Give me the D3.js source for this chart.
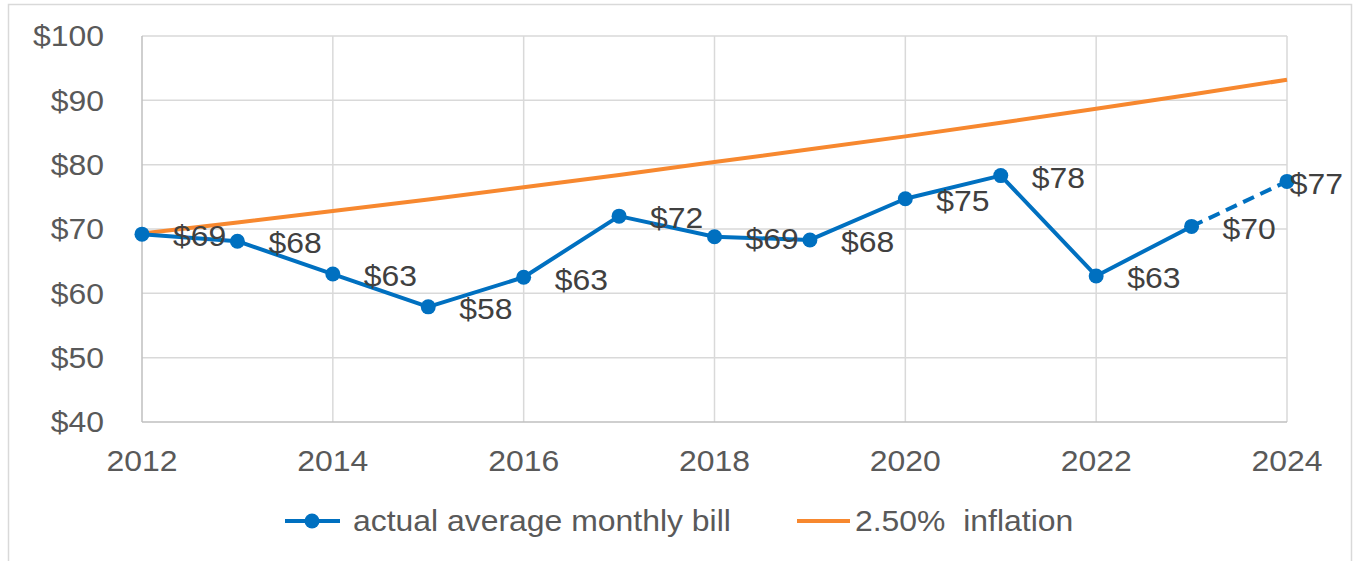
<!DOCTYPE html>
<html>
<head>
    <meta charset="utf-8" />
    <title>Average monthly bill vs inflation</title>
    <style>
        body { margin: 0; background: #fff; }
        svg text { font-family: "Liberation Sans", Arial, sans-serif; }
    </style>
    <script src="https://cdn.jsdelivr.net/npm/d3@7/dist/d3.min.js"></script>
</head>
<body>
    <div id="chart"></div>
    <script>
        // data
        var years = [2012, 2013, 2014, 2015, 2016, 2017, 2018, 2019, 2020, 2021, 2022, 2023, 2024];
        var actualBill = [69.2, 68.1, 63.0, 57.9, 62.5, 72.0, 68.8, 68.3, 74.7, 78.3, 62.7, 70.4, 77.4];
        var inflation = [69.3, 71.0, 72.8, 74.6, 76.5, 78.4, 80.4, 82.4, 84.4, 86.5, 88.7, 90.9, 93.2];
        var yTicks = [40, 50, 60, 70, 80, 90, 100];
        var xTicks = [2012, 2014, 2016, 2018, 2020, 2022, 2024];
        var legendNames = ['actual average monthly bill', '2.50%  inflation'];

        var width = 1354,
            height = 561,
            fontSize = 29.3,
            SX = 1.09; // text in the reference is a bit wider than Arial

        var blue = '#0070C0',
            orange = '#F7882F',
            grid = '#d9d9d9',
            axisCol = '#bfbfbf';

        var svg = d3.select('#chart')
            .append('svg')
            .attr('width', width)
            .attr('height', height);

        // chart border
        svg.append('rect')
            .attr('x', 8.5).attr('y', 4.5)
            .attr('width', 1343).attr('height', 600)
            .attr('fill', 'none')
            .attr('stroke', grid)
            .attr('stroke-width', 1.5);

        var x = d3.scaleLinear().domain([2012, 2024]).range([142, 1287]);
        var y = d3.scaleLinear().domain([40, 100]).range([422, 36]);

        function stretchText(sel, fx, fy) {
            sel.attr('transform', (d, i) => 'translate(' + fx(d, i) + ',' + fy(d, i) + ') scale(' + SX + ',1)');
        }

        // gridlines
        svg.append('g').selectAll('line')
            .data(yTicks.slice(1))
            .enter().append('line')
            .attr('x1', x(2012)).attr('x2', x(2024))
            .attr('y1', d => y(d)).attr('y2', d => y(d))
            .attr('stroke', grid).attr('stroke-width', 1.5);

        svg.append('g').selectAll('line')
            .data(xTicks.slice(1))
            .enter().append('line')
            .attr('x1', d => x(d)).attr('x2', d => x(d))
            .attr('y1', y(100)).attr('y2', y(40))
            .attr('stroke', grid).attr('stroke-width', 1.5);

        // axis lines
        svg.append('line')
            .attr('x1', x(2012)).attr('x2', x(2012))
            .attr('y1', y(100)).attr('y2', y(40))
            .attr('stroke', axisCol).attr('stroke-width', 1.5);
        svg.append('line')
            .attr('x1', x(2012)).attr('x2', x(2024))
            .attr('y1', y(40)).attr('y2', y(40))
            .attr('stroke', axisCol).attr('stroke-width', 1.5);

        // tick labels
        svg.append('g').selectAll('text')
            .data(yTicks)
            .enter().append('text')
            .attr('text-anchor', 'end')
            .attr('dy', '0.35em')
            .attr('font-size', fontSize)
            .attr('fill', '#595959')
            .text(d => '$' + d)
            .call(stretchText, d => 104, d => y(d));

        svg.append('g').selectAll('text')
            .data(xTicks)
            .enter().append('text')
            .attr('text-anchor', 'middle')
            .attr('dy', '0.35em')
            .attr('font-size', fontSize)
            .attr('fill', '#595959')
            .text(d => d)
            .call(stretchText, d => x(d), d => 461);

        // inflation line
        var line = d3.line()
            .x((d, i) => x(years[i]))
            .y(d => y(d));

        svg.append('path')
            .datum(inflation)
            .attr('d', line)
            .attr('fill', 'none')
            .attr('stroke', orange)
            .attr('stroke-width', 4);

        // actual bill: solid up to 2023, dashed to 2024
        var pts = years.map((yr, i) => [x(yr), y(actualBill[i])]);
        var n = pts.length;

        svg.append('path')
            .datum(pts.slice(0, n - 1))
            .attr('d', d3.line())
            .attr('fill', 'none')
            .attr('stroke', blue)
            .attr('stroke-width', 4)
            .attr('stroke-linejoin', 'round');

        svg.append('path')
            .datum(pts.slice(n - 2))
            .attr('d', d3.line())
            .attr('fill', 'none')
            .attr('stroke', blue)
            .attr('stroke-width', 4)
            .attr('stroke-dasharray', '12,7');

        svg.append('g').selectAll('circle')
            .data(pts)
            .enter().append('circle')
            .attr('cx', d => d[0])
            .attr('cy', d => d[1])
            .attr('r', 7.5)
            .attr('fill', blue);

        // data labels (right of point, kept inside the chart area)
        var labels = svg.append('g').selectAll('text')
            .data(actualBill)
            .enter().append('text')
            .attr('dy', '0.35em')
            .attr('font-size', fontSize)
            .attr('fill', '#404040')
            .text(d => '$' + Math.round(d));

        labels.each(function(d, i) {
            var w = this.getComputedTextLength() * SX;
            var lx = Math.min(pts[i][0] + 31, 1343 - w);
            d3.select(this).attr('transform', 'translate(' + lx + ',' + (pts[i][1] + 2) + ') scale(' + SX + ',1)');
        });

        // legend
        var leg = svg.append('g');
        leg.append('line')
            .attr('x1', 285).attr('x2', 340)
            .attr('y1', 521).attr('y2', 521)
            .attr('stroke', blue).attr('stroke-width', 4);
        leg.append('circle')
            .attr('cx', 312).attr('cy', 521).attr('r', 7.5)
            .attr('fill', blue);
        leg.append('line')
            .attr('x1', 797).attr('x2', 850)
            .attr('y1', 521).attr('y2', 521)
            .attr('stroke', orange).attr('stroke-width', 4);

        leg.selectAll('text')
            .data(legendNames)
            .enter().append('text')
            .attr('dy', '0.35em')
            .attr('font-size', fontSize)
            .attr('fill', '#595959')
            .attr('xml:space', 'preserve')
            .style('white-space', 'pre')
            .text(d => d)
            .call(stretchText, (d, i) => i === 0 ? 353 : 855, d => 521);
    </script>
</body>
</html>
